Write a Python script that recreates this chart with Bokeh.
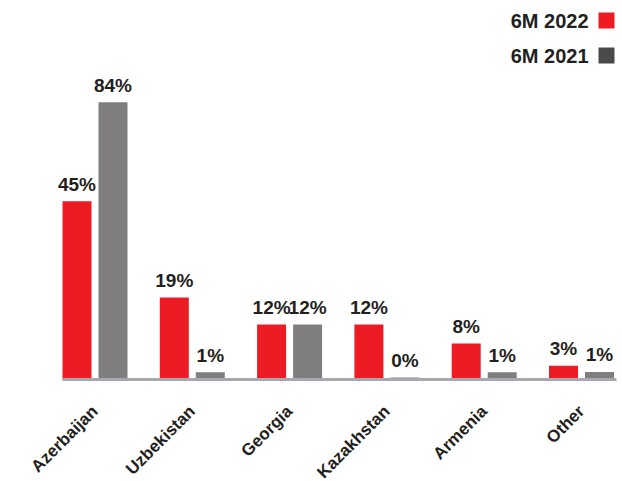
import numpy as np
from bokeh.plotting import figure
from bokeh.models import ColumnDataSource, FixedTicker, Range1d, Label, BoxAnnotation
from bokeh.core.properties import value
from bokeh.embed import file_html
from bokeh.resources import INLINE

# ---- data ----
categories = ["Azerbaijan", "Uzbekistan", "Georgia", "Kazakhstan", "Armenia", "Other"]
series = ["6M 2022", "6M 2021"]
# bar heights as drawn in the picture (same scale as the 45% bar)
height_2022 = [45, 20.7, 13.9, 13.9, 9.1, 3.5]
height_2021 = [70, 1.8, 13.9, 0.5, 1.8, 1.9]
# printed value labels
label_2022 = ["45%", "19%", "12%", "12%", "8%", "3%"]
label_2021 = ["84%", "1%", "12%", "0%", "1%", "1%"]

# ---- style ----
RED = "#ed1c24"
GREY = "#807e7f"
LEG_GREY = "#4a4a4a"
TXT = "#231f20"
AXIS = "#a7a9b1"
FONT = "Liberation Sans"

W, H = 622, 481
FW, FH = 622, 384                   # frame width, height (frame at top-left)
BASE = 379                          # baseline pixel row
SX = 97.3                           # px per category
X0 = -94.5 / SX                     # x range start
SY = 3.96                           # px per unit of height

idx = np.arange(len(categories))
dx = 18.0 / SX
bw = 29.0 / SX

src22 = ColumnDataSource(dict(x=idx - dx, top=height_2022, lab=label_2022))
src21 = ColumnDataSource(dict(x=idx + dx, top=height_2021, lab=label_2021))

p = figure(width=W, height=H, frame_width=FW, frame_height=FH,
           min_border_left=0, min_border_right=0,
           min_border_top=0, min_border_bottom=H - FH,
           x_range=Range1d(X0, X0 + FW / SX),
           y_range=Range1d(-(FH - BASE) / SY, BASE / SY),
           output_backend="svg", toolbar_location=None, y_axis_location=None)

p.vbar(x="x", top="top", width=bw, bottom=0, source=src22, color=RED, line_color=None)
p.vbar(x="x", top="top", width=bw, bottom=0, source=src21, color=GREY, line_color=None)

for s in (src22, src21):
    p.text(x="x", y="top", text="lab", source=s, text_align="center",
           text_baseline="alphabetic", y_offset=-17, text_font=value(FONT),
           text_font_style="bold", text_font_size="19px", text_color=TXT)

ax = p.xaxis[0]
ax.ticker = FixedTicker(ticks=list(idx))
ax.major_label_overrides = {int(i): c for i, c in zip(idx, categories)}
ax.major_label_orientation = np.pi / 4
ax.major_label_text_font = FONT
ax.major_label_text_font_style = "bold"
ax.major_label_text_font_size = "17px"
ax.major_label_text_color = TXT
ax.major_label_standoff = 18
ax.major_tick_line_color = None
ax.minor_tick_line_color = None
ax.axis_line_color = None

p.xgrid.grid_line_color = None
p.ygrid.grid_line_color = None
p.outline_line_color = None
p.background_fill_color = "white"
p.border_fill_color = "white"

def dxp(px):
    return X0 + px / SX

def dyp(py):
    return (BASE - py) / SY

# baseline rule (drawn over the bar feet)
p.add_layout(BoxAnnotation(left=dxp(62), right=dxp(616), top=dyp(377.5),
                           bottom=dyp(380.5), fill_color=AXIS, fill_alpha=1,
                           line_color=None))

# ---- legend (text left of swatch) ----
for name, col, base, top, bot in [(series[0], RED, 28, 12, 28),
                                  (series[1], LEG_GREY, 63, 47, 63)]:
    p.add_layout(Label(x=dxp(588), y=dyp(base - 8), text=name, text_align="right",
                       text_baseline="alphabetic", text_font=FONT,
                       text_font_style="bold", text_font_size="20px",
                       text_color=TXT))
    p.add_layout(BoxAnnotation(left=dxp(598), right=dxp(614), top=dyp(top),
                               bottom=dyp(bot), fill_color=col, fill_alpha=1,
                               line_color=None))

open("out.html", "w").write(file_html(p, INLINE))
